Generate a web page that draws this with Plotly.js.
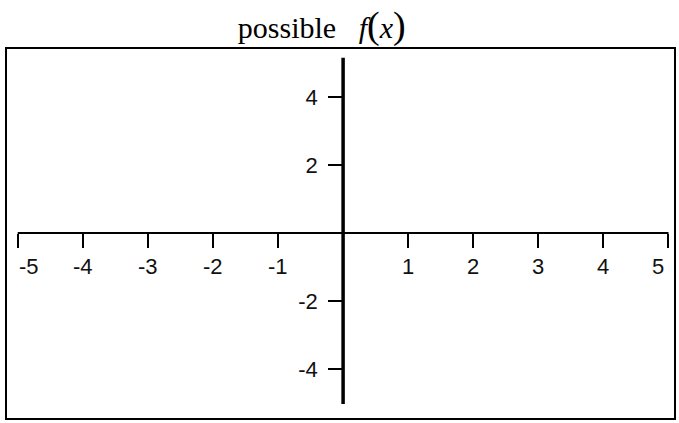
<!DOCTYPE html>
<html>
<head>
<meta charset="utf-8">
<script src="https://cdn.plot.ly/plotly-3.0.1.min.js"></script>
<style>html,body{margin:0;padding:0;background:#fff;}#chart{width:679px;height:423px;}</style>
</head>
<body>
<div id="chart"></div>
<script>
// Data
var xTickVals = [-5, -4, -3, -2, -1, 1, 2, 3, 4, 5];
var xTickText = ["-5", "-4", "-3", "-2", "-1", "1", "2", "3", "4", "5"];
var yTickVals = [-4, -2, 2, 4];
var yTickText = ["-4", "-2", "2", "4"];
var xAxisLineX = [-5, 5];
var xAxisLineY = [0, 0];
var yAxisLineX = [0, 0];
var yAxisLineY = [-5.03, 5.15];
var xRange = [-5.18, 5.10];
var yRange = [-5.47, 5.44];

var xPos = (0 - yRange[0]) / (yRange[1] - yRange[0]);
var yPos = (0 - xRange[0]) / (xRange[1] - xRange[0]);

var traces = [
  {x: xAxisLineX, y: xAxisLineY, mode: 'lines', line: {color: '#000', width: 2}, hoverinfo: 'skip', showlegend: false, cliponaxis: false},
  {x: yAxisLineX, y: yAxisLineY, mode: 'lines', line: {color: '#000', width: 3.5}, hoverinfo: 'skip', showlegend: false, cliponaxis: false}
];

var tickFont = {family: 'Liberation Sans, Arial, sans-serif', size: 22, color: '#111'};

var xMin = Math.min.apply(null, xTickVals), xMax = Math.max.apply(null, xTickVals);
var annotations = xTickVals.map(function (v, i) {
  var anchor = v === xMin ? 'left' : (v === xMax ? 'right' : 'center');
  return {
    x: v, y: 0, xref: 'x', yref: 'y', text: xTickText[i], showarrow: false,
    xanchor: anchor, yanchor: 'middle', yshift: -34,
    xshift: v === xMax ? -3 : 0,
    font: tickFont, borderpad: 0
  };
});

var layout = {
  width: 679, height: 423,
  margin: {l: 6, r: 4, t: 48, b: 4, pad: 0},
  paper_bgcolor: '#fff', plot_bgcolor: '#fff',
  showlegend: false,
  title: {
    text: 'possible\u00a0\u00a0 <i>f</i><span style="font-size:38px">(</span><i>x</i><span style="font-size:38px">)</span>',
    font: {family: 'Liberation Serif, Times New Roman, serif', size: 30, color: '#000'},
    x: 0.472, xanchor: 'center', xref: 'paper',
    y: 0.935, yanchor: 'middle', yref: 'container'
  },
  xaxis: {
    range: xRange, anchor: 'free', position: xPos,
    showgrid: false, zeroline: false, showline: false,
    tickmode: 'array', tickvals: xTickVals, ticktext: xTickText,
    ticks: 'outside', ticklen: 14, tickwidth: 2, tickcolor: '#000',
    showticklabels: false
  },
  yaxis: {
    range: yRange, anchor: 'free', position: yPos,
    showgrid: false, zeroline: false, showline: false,
    tickmode: 'array', tickvals: yTickVals, ticktext: yTickText,
    ticks: 'outside', ticklen: 15, tickwidth: 2, tickcolor: '#000',
    tickfont: tickFont, ticklabelstandoff: 6
  },
  annotations: annotations,
  shapes: [{
    type: 'rect', xref: 'paper', yref: 'paper', x0: 0, x1: 1, y0: 0, y1: 1,
    line: {color: '#000', width: 2}, fillcolor: 'rgba(0,0,0,0)', layer: 'above'
  }]
};

Plotly.newPlot('chart', traces, layout, {staticPlot: true, displayModeBar: false});
</script>
</body>
</html>
